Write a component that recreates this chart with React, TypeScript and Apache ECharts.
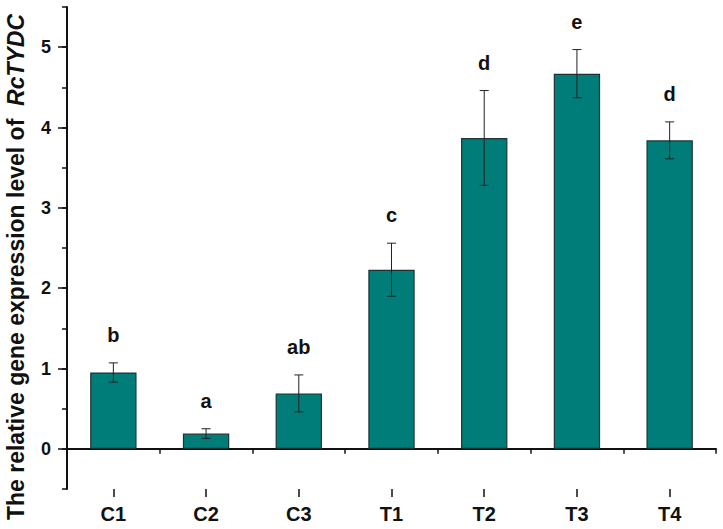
import React, { useEffect, useRef } from "react";
import * as echarts from "echarts";

const categories = ["C1", "C2", "C3", "T1", "T2", "T3", "T4"];
const means = [0.95, 0.19, 0.69, 2.23, 3.87, 4.67, 3.84];
const errors = [0.12, 0.06, 0.23, 0.33, 0.59, 0.3, 0.23];
const letters = ["b", "a", "ab", "c", "d", "e", "d"];

const FONT = 'Arial, "Liberation Sans", sans-serif';
const BAR = "#007C79";
const INK = "#111111";

export default function App() {
  const ref = useRef<HTMLDivElement>(null);
  useEffect(() => {
    if (!ref.current) return;
    const chart = echarts.init(ref.current, null, { renderer: "svg" });
    const errData = means.map((m, i) => [i, m, errors[i]]);
    chart.setOption({
      animation: false,
      backgroundColor: "#ffffff",
      grid: [
        { left: 67, right: 7, top: 7, bottom: 40 },
        { left: 67, right: 7, top: 7 + 40.1667, bottom: 40 + 40.1667 },
      ],
      xAxis: [
        {
          type: "category",
          gridIndex: 0,
          data: categories,
          boundaryGap: true,
          axisLine: { show: true, lineStyle: { color: INK, width: 2 } },
          axisTick: { show: true, alignWithLabel: false, length: 5, lineStyle: { color: INK, width: 1.5 } },
          axisLabel: { show: true, margin: 15, fontSize: 20, fontWeight: "bold", color: INK, fontFamily: FONT },
          splitLine: { show: false },
        },
        {
          type: "category",
          gridIndex: 0,
          position: "bottom",
          data: categories,
          boundaryGap: true,
          axisLine: { show: false },
          axisTick: { show: true, alignWithLabel: true, length: 8, lineStyle: { color: INK, width: 1.5 } },
          axisLabel: { show: false },
          splitLine: { show: false },
        },
        {
          type: "category",
          gridIndex: 1,
          data: categories,
          show: false,
        },
      ],
      yAxis: [
        {
          type: "value",
          gridIndex: 0,
          min: -0.5,
          max: 5.5,
          interval: 0.5,
          axisLine: { show: true, lineStyle: { color: INK, width: 2 } },
          axisTick: { show: true, length: 5, lineStyle: { color: INK, width: 1.5 } },
          axisLabel: { show: false },
          splitLine: { show: false },
        },
        {
          type: "value",
          gridIndex: 1,
          min: 0,
          max: 5,
          interval: 1,
          axisLine: { show: false },
          axisTick: { show: true, length: 9, lineStyle: { color: INK, width: 1.5 } },
          axisLabel: { show: true, margin: 16, fontSize: 18, fontWeight: "bold", color: INK, fontFamily: FONT },
          splitLine: { show: false },
        },
      ],
      series: [
        {
          type: "bar",
          xAxisIndex: 0,
          yAxisIndex: 0,
          data: means,
          barWidth: "50%",
          itemStyle: { color: BAR, borderColor: "#1c3434", borderWidth: 1.2 },
          z: 2,
        },
        {
          type: "custom",
          xAxisIndex: 0,
          yAxisIndex: 0,
          data: errData,
          clip: false,
          z: 5,
          renderItem: (params: any, api: any) => {
            const x = api.value(0);
            const m = api.value(1);
            const e = api.value(2);
            const top = api.coord([x, m + e]);
            const bot = api.coord([x, m - e]);
            const hw = 4.5;
            const ls = { stroke: "#222222", lineWidth: 1 };
            return {
              type: "group",
              children: [
                { type: "line", shape: { x1: top[0], y1: top[1], x2: bot[0], y2: bot[1] }, style: ls },
                { type: "line", shape: { x1: top[0] - hw, y1: top[1], x2: top[0] + hw, y2: top[1] }, style: ls },
                { type: "line", shape: { x1: bot[0] - hw, y1: bot[1], x2: bot[0] + hw, y2: bot[1] }, style: ls },
                {
                  type: "text",
                  x: top[0],
                  y: top[1] - 28,
                  style: {
                    text: letters[params.dataIndex],
                    align: "center",
                    verticalAlign: "middle",
                    fontSize: 20,
                    fontWeight: "bold",
                    fontFamily: FONT,
                    fill: INK,
                  },
                },
              ],
            };
          },
        },
      ],
      graphic: [
        {
          type: "text",
          x: 16,
          y: 267,
          rotation: Math.PI / 2,
          style: {
            text: "{a|The relative gene expression level of  }{b|RcTYDC}",
            align: "center",
            verticalAlign: "middle",
            rich: {
              a: { fontSize: 23, fontWeight: "bold", fontFamily: FONT, fill: INK },
              b: { fontSize: 23, fontWeight: "bold", fontStyle: "italic", fontFamily: FONT, fill: INK },
            },
          },
        },
      ],
    });
    return () => chart.dispose();
  }, []);
  return (
    <div
      ref={ref}
      style={{ position: "fixed", left: 0, top: 0, width: 723, height: 529, background: "#fff" }}
    />
  );
}
